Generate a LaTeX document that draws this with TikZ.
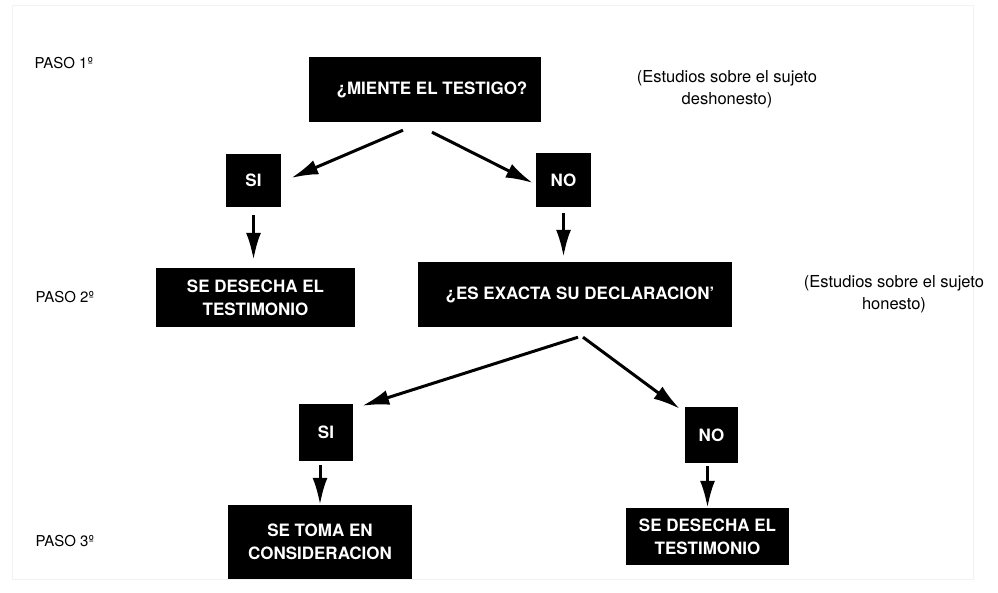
\documentclass[tikz,border=0pt]{standalone}
\usepackage{fontspec}
\setmainfont{TeX Gyre Heros}
\usepackage{tikz}
\usetikzlibrary{arrows.meta}
\usetikzlibrary{calc}
\definecolor{framecolor}{HTML}{F2F2F2}

\tikzset{
  caja/.style={fill=black, text=white, align=center, inner sep=0pt,
    font=\fontsize{17}{23}\selectfont\bfseries},
  flecha/.style={black, line width=3pt, -{Latex[length=27pt,width=15pt]}},
  paso/.style={anchor=west, font=\fontsize{15}{18}\selectfont},
  nota/.style={align=center, font=\fontsize{16.5}{22}\selectfont}
}

\begin{document}
\begin{tikzpicture}[x=1pt,y=-1pt]
\useasboundingbox (0,0) rectangle (998,593);
%% faint edge of the scanned page
\draw[framecolor,line width=1pt] (12,6) rectangle (973,579);

   \node[paso] (paso1) at (31,63) {PASO 1º};
   \node[paso] (paso2) at (32,297) {PASO 2º};
   \node[paso] (paso3) at (32,541) {PASO 3º};

   \node[caja, minimum width=232pt, minimum height=65pt] (mente) at (425,89.5) {\hspace*{14pt}¿MIENTE EL TESTIGO?};
   \node[caja, minimum width=55pt, minimum height=53pt] (si1) at (253.5,180.5) {SI};
   \node[caja, minimum width=55pt, minimum height=54pt] (no1) at (563.5,180) {NO};
   \node[caja, minimum width=199pt, minimum height=59pt] (desecha1) at (255.5,297.5) {SE DESECHA EL\\TESTIMONIO};
   \node[caja, minimum width=314pt, minimum height=65pt] (exacta) at (575,294.5) {\hspace*{10pt}¿ES EXACTA SU DECLARACION'};
   \node[caja, minimum width=54pt, minimum height=57pt] (si2) at (326,432.5) {SI};
   \node[caja, minimum width=53pt, minimum height=56pt] (no2) at (711.5,435) {NO};
   \node[caja, minimum width=184pt, minimum height=74pt] (setoma) at (320,542) {SE TOMA EN\\CONSIDERACION};
   \node[caja, minimum width=163pt, minimum height=57pt] (desecha2) at (707.5,536.5) {SE DESECHA EL\\TESTIMONIO};

   \node[nota] (nota1) at (727,89) {(Estudios sobre el sujeto\\deshonesto)};
   \node[nota] (nota2) at (894,294.5) {(Estudios sobre el sujeto\\honesto)};

\draw[flecha] ($(mente.south)+(-22,8)$) -- ($(si1.east)+(10,-2.5)$);
\draw[flecha] ($(mente.south)+(7,10)$) -- ($(no1.west)+(-3,3)$);
\draw[flecha] ($(si1.south)+(0,8)$) -- ($(si1.south |- desecha1.north)+(0,-8)$);
\draw[flecha] ($(no1.south)+(0,6)$) -- ($(no1.south |- exacta.north)+(0,-5)$);
\draw[flecha] ($(exacta.south)+(3,10)$) -- ($(si2.north east)+(9,2)$);
\draw[flecha] ($(exacta.south)+(8,10)$) -- ($(no2.north west)+(-5,2)$);
\draw[flecha] ($(setoma.north |- si2.south)+(0,4)$) -- (setoma.north);
\draw[flecha] ($(desecha2.north |- no2.south)+(0,3)$) -- (desecha2.north);
\end{tikzpicture}
\end{document}
